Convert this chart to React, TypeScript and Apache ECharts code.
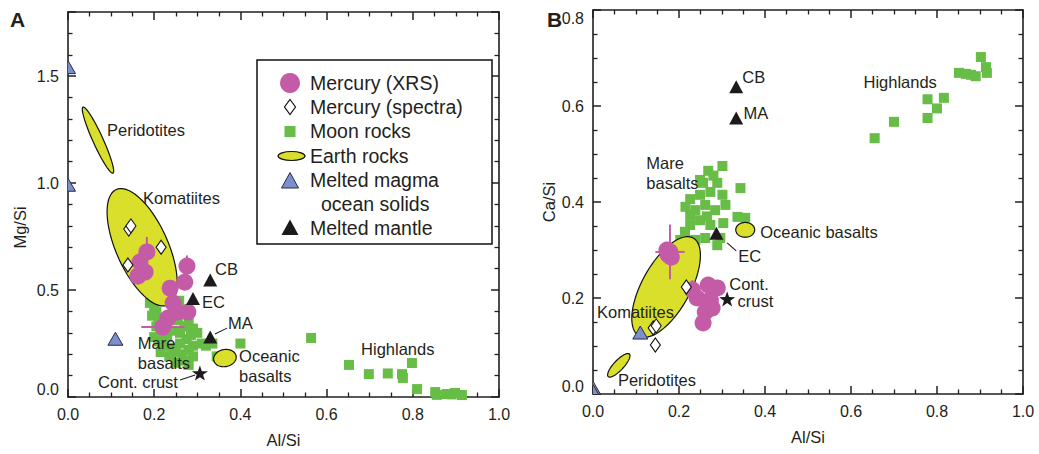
import React, { useEffect, useRef } from "react";
import * as echarts from "echarts";

type P = [number, number];

// ---------------- Panel A: Mg/Si vs Al/Si ----------------
const mercuryXrsA: P[] = [
  [0.183, 0.678], [0.167, 0.631], [0.179, 0.584], [0.162, 0.565],
  [0.276, 0.612], [0.271, 0.537], [0.237, 0.509], [0.244, 0.439],
  [0.253, 0.397], [0.278, 0.397], [0.22, 0.327], [0.232, 0.369],
];
const mercuryErrA: [number, number, number, number][] = [
  [0.183, 0.678, 0, 0.07], [0.276, 0.612, 0, 0.05], [0.22, 0.327, 0.05, 0],
];
const mercurySpectraA: P[] = [[0.141, 0.785], [0.146, 0.8], [0.216, 0.7], [0.139, 0.617]];
const moonRocksA: P[] = [
  // mare basalts
  [0.19, 0.44], [0.2, 0.42], [0.205, 0.4], [0.195, 0.38], [0.21, 0.36], [0.258, 0.45], [0.25, 0.42],
  [0.205, 0.33], [0.215, 0.3], [0.2, 0.28], [0.21, 0.26], [0.22, 0.24], [0.23, 0.28], [0.245, 0.31],
  [0.26, 0.3], [0.27, 0.33], [0.28, 0.35], [0.29, 0.32], [0.285, 0.29], [0.3, 0.3], [0.275, 0.27],
  [0.26, 0.25], [0.24, 0.23], [0.25, 0.21], [0.265, 0.2], [0.28, 0.22], [0.29, 0.24], [0.31, 0.25],
  [0.32, 0.24], [0.335, 0.25], [0.29, 0.19], [0.27, 0.17], [0.25, 0.16], [0.28, 0.15], [0.235, 0.19],
  [0.215, 0.21], [0.345, 0.19], [0.4, 0.25], [0.23, 0.35], [0.255, 0.36],
  // highlands
  [0.564, 0.276], [0.652, 0.15], [0.698, 0.107], [0.742, 0.11], [0.775, 0.107], [0.777, 0.089],
  [0.798, 0.159], [0.81, 0.037], [0.852, 0.023], [0.856, 0.01], [0.879, 0.014], [0.898, 0.019],
  [0.914, 0.009], [0.89, 0.012],
];
const magmaOceanA: P[] = [[0, 1.54], [0, 0.99], [0.11, 0.27]];
const meltedMantleA: P[] = [[0.33, 0.547], [0.29, 0.46], [0.33, 0.28]];
const contCrustA: P[] = [[0.306, 0.112]];
// [centreX, centreY, tipX, tipY, widthRatio]
const earthRocksA: number[][] = [
  [0.0696, 1.201, 0.1044, 1.0467, 0.14],
  [0.172, 0.7, 0.232, 0.43, 0.41],
  [0.364, 0.182, 0.39, 0.192, 0.75],
];
const labelsA = [
  { t: "Peridotites", x: 0.0905, y: 1.248, a: "left" },
  { t: "Komatiites", x: 0.174, y: 0.93, a: "left" },
  { t: "CB", x: 0.341, y: 0.598, a: "left" },
  { t: "EC", x: 0.311, y: 0.444, a: "left" },
  { t: "MA", x: 0.371, y: 0.346, a: "left" },
  { t: "Mare\nbasalts", x: 0.162, y: 0.206, a: "left" },
  { t: "Oceanic\nbasalts", x: 0.397, y: 0.145, a: "left" },
  { t: "Cont. crust", x: 0.255, y: 0.07, a: "right" },
  { t: "Highlands", x: 0.68, y: 0.224, a: "left" },
];
const leadersA: number[][] = [
  [0.341, 0.294, 0.369, 0.322],
  [0.26, 0.079, 0.295, 0.103],
];

// ---------------- Panel B: Ca/Si vs Al/Si ----------------
const mercuryXrsB: P[] = [
  [0.179, 0.296], [0.175, 0.29], [0.182, 0.285], [0.172, 0.3],
  [0.231, 0.217], [0.268, 0.227], [0.289, 0.221], [0.242, 0.2],
  [0.273, 0.196], [0.261, 0.171], [0.277, 0.179], [0.256, 0.148],
];
const mercuryErrB: [number, number, number, number][] = [
  [0.179, 0.296, 0.034, 0.057], [0.231, 0.217, 0, 0.02],
];
const mercurySpectraB: P[] = [[0.14, 0.1375], [0.147, 0.142], [0.217, 0.223], [0.145, 0.102]];
const moonRocksB: P[] = [
  // mare basalts
  [0.268, 0.465], [0.301, 0.475], [0.343, 0.429], [0.256, 0.44], [0.289, 0.44], [0.273, 0.421],
  [0.249, 0.415], [0.301, 0.415], [0.226, 0.406], [0.261, 0.394], [0.238, 0.383], [0.284, 0.383],
  [0.249, 0.362], [0.226, 0.352], [0.273, 0.352], [0.214, 0.338], [0.203, 0.321], [0.238, 0.321],
  [0.261, 0.325], [0.296, 0.325], [0.303, 0.356], [0.336, 0.369], [0.354, 0.367], [0.289, 0.31],
  [0.226, 0.373], [0.308, 0.394], [0.249, 0.446], [0.28, 0.455], [0.215, 0.39], [0.265, 0.37],
  // highlands
  [0.655, 0.533], [0.7, 0.567], [0.778, 0.614], [0.778, 0.575], [0.8, 0.595], [0.816, 0.617],
  [0.851, 0.669], [0.867, 0.667], [0.879, 0.665], [0.89, 0.662], [0.902, 0.702], [0.914, 0.681],
  [0.916, 0.669],
];
const magmaOceanB: P[] = [[0, 0.012], [0, 0.005], [0.11, 0.127]];
const meltedMantleB: P[] = [[0.333, 0.64], [0.287, 0.335], [0.333, 0.575]];
const contCrustB: P[] = [[0.312, 0.198]];
const earthRocksB: number[][] = [
  [0.06, 0.0598, 0.0846, 0.0833, 0.32],
  [0.17, 0.223, 0.233, 0.325, 0.43],
  [0.354, 0.342, 0.376, 0.342, 0.78],
];
const labelsB = [
  { t: "CB", x: 0.347, y: 0.66, a: "left" },
  { t: "MA", x: 0.35, y: 0.585, a: "left" },
  { t: "Highlands", x: 0.629, y: 0.65, a: "left" },
  { t: "Mare\nbasalts", x: 0.124, y: 0.461, a: "left" },
  { t: "Oceanic basalts", x: 0.389, y: 0.3375, a: "left" },
  { t: "EC", x: 0.338, y: 0.2875, a: "left" },
  { t: "Cont.", x: 0.317, y: 0.23, a: "left" },
  { t: "crust", x: 0.336, y: 0.194, a: "left" },
  { t: "Komatiites", x: 0.0093, y: 0.171, a: "left" },
  { t: "Peridotites", x: 0.058, y: 0.029, a: "left" },
];
const leadersB: number[][] = [[0.312, 0.315, 0.333, 0.298]];

// ---------------- styles ----------------
const FONT = '"Liberation Sans", Arial, Helvetica, sans-serif';
const INK = "#231f20";
const MAGENTA = "#c45ba7";
const GREEN = "#67bd45";
const YELLOW = "#d9df2b";
const BLUE = "#7a8fcc";
const STAR = "path://M0,-10 L2.35,-3.24 L9.51,-3.09 L3.8,1.24 L5.88,8.09 L0,4 L-5.88,8.09 L-3.8,1.24 L-9.51,-3.09 L-2.35,-3.24 Z";

const multipleOf = (v: number, step: number) => Math.abs(v / step - Math.round(v / step)) < 1e-6;

function axis(min: number, max: number, interval: number, minorSplit: number, showLabel: boolean, extra: any = {}) {
  return {
    type: "value",
    min,
    max,
    interval,
    axisLine: { show: true, onZero: false, lineStyle: { color: INK, width: 1.6 } },
    axisTick: { show: true, inside: true, length: 8, lineStyle: { color: INK, width: 1.5 } },
    minorTick: { show: true, splitNumber: minorSplit, length: 4.5, lineStyle: { color: INK, width: 1.3 } },
    splitLine: { show: false },
    minorSplitLine: { show: false },
    axisLabel: {
      show: showLabel,
      color: INK,
      fontSize: 16,
      fontFamily: FONT,
      margin: 9,
      formatter: (v: number) => (multipleOf(v, interval) ? v.toFixed(1) : ""),
    },
    nameTextStyle: { color: INK, fontSize: 16.5, fontFamily: FONT },
    ...extra,
  };
}

function ellipseSeries(data: number[][], xi: number, yi: number) {
  return {
    type: "custom",
    xAxisIndex: xi,
    yAxisIndex: yi,
    z: 3,
    silent: true,
    encode: { x: [0, 2], y: [1, 3] },
    data,
    renderItem: (_p: any, api: any) => {
      const c = api.coord([api.value(0), api.value(1)]);
      const t = api.coord([api.value(2), api.value(3)]);
      const dx = t[0] - c[0];
      const dy = t[1] - c[1];
      const a = Math.hypot(dx, dy);
      const b = a * api.value(4);
      const ang = Math.atan2(dy, dx);
      const pts: number[][] = [];
      for (let i = 0; i < 90; i++) {
        const th = (i / 90) * Math.PI * 2;
        const ex = a * Math.cos(th);
        const ey = b * Math.sin(th);
        pts.push([c[0] + ex * Math.cos(ang) - ey * Math.sin(ang), c[1] + ex * Math.sin(ang) + ey * Math.cos(ang)]);
      }
      return { type: "polygon", shape: { points: pts }, style: { fill: YELLOW, stroke: "#111", lineWidth: 1.2 } };
    },
  };
}

function errorSeries(data: number[][], xi: number, yi: number) {
  return {
    type: "custom",
    xAxisIndex: xi,
    yAxisIndex: yi,
    z: 4,
    silent: true,
    encode: { x: 0, y: 1 },
    data,
    renderItem: (_p: any, api: any) => {
      const x = api.value(0), y = api.value(1), ex = api.value(2), ey = api.value(3);
      const children: any[] = [];
      if (ex > 0) {
        const a = api.coord([x - ex, y]), b = api.coord([x + ex, y]);
        children.push({ type: "line", shape: { x1: a[0], y1: a[1], x2: b[0], y2: b[1] }, style: { stroke: MAGENTA, lineWidth: 2 } });
      }
      if (ey > 0) {
        const a = api.coord([x, y - ey]), b = api.coord([x, y + ey]);
        children.push({ type: "line", shape: { x1: a[0], y1: a[1], x2: b[0], y2: b[1] }, style: { stroke: MAGENTA, lineWidth: 2 } });
      }
      return { type: "group", children };
    },
  };
}

function magmaSeries(data: P[], xi: number, yi: number) {
  return {
    type: "custom",
    name: "Melted magma ocean solids",
    xAxisIndex: xi,
    yAxisIndex: yi,
    z: 7,
    clip: true,
    encode: { x: 0, y: 1 },
    data,
    renderItem: (_p: any, api: any) => {
      const c = api.coord([api.value(0), api.value(1)]);
      return {
        type: "polygon",
        shape: { points: [[c[0], c[1] - 7], [c[0] + 7.5, c[1] + 6], [c[0] - 7.5, c[1] + 6]] },
        style: { fill: BLUE, stroke: "#2b2b45", lineWidth: 1 },
      };
    },
  };
}

function labelSeries(labels: { t: string; x: number; y: number; a: string }[], xi: number, yi: number) {
  return {
    type: "custom",
    xAxisIndex: xi,
    yAxisIndex: yi,
    z: 9,
    silent: true,
    encode: { x: 0, y: 1 },
    data: labels.map((l) => [l.x, l.y]),
    renderItem: (p: any, api: any) => {
      const l = labels[p.dataIndex];
      const c = api.coord([api.value(0), api.value(1)]);
      return {
        type: "text",
        x: c[0],
        y: c[1],
        style: {
          text: l.t,
          fill: INK,
          fontSize: 16.5,
          fontFamily: FONT,
          align: l.a,
          verticalAlign: "middle",
          lineHeight: 20,
        },
      };
    },
  };
}

function leaderSeries(data: number[][], xi: number, yi: number) {
  return {
    type: "custom",
    xAxisIndex: xi,
    yAxisIndex: yi,
    z: 8,
    silent: true,
    encode: { x: [0, 2], y: [1, 3] },
    data,
    renderItem: (_p: any, api: any) => {
      const a = api.coord([api.value(0), api.value(1)]);
      const b = api.coord([api.value(2), api.value(3)]);
      return { type: "line", shape: { x1: a[0], y1: a[1], x2: b[0], y2: b[1] }, style: { stroke: INK, lineWidth: 1.1 } };
    },
  };
}

function panelSeries(
  xi: number,
  yi: number,
  d: {
    moon: P[]; earth: number[][]; err: number[][]; xrs: P[]; spectra: P[];
    magma: P[]; mantle: P[]; crust: P[]; leaders: number[][]; labels: any[];
  }
) {
  return [
    { type: "scatter", name: "Moon rocks", xAxisIndex: xi, yAxisIndex: yi, z: 2, symbol: "rect", symbolSize: 10, itemStyle: { color: GREEN, opacity: 1 }, data: d.moon },
    ellipseSeries(d.earth, xi, yi),
    errorSeries(d.err, xi, yi),
    { type: "scatter", name: "Mercury (XRS)", xAxisIndex: xi, yAxisIndex: yi, z: 5, symbol: "circle", symbolSize: 17, itemStyle: { color: MAGENTA, opacity: 1 }, data: d.xrs },
    { type: "scatter", name: "Mercury (spectra)", xAxisIndex: xi, yAxisIndex: yi, z: 6, symbol: "diamond", symbolSize: [10, 14], itemStyle: { color: "#fff", borderColor: "#111", borderWidth: 1.1, opacity: 1 }, data: d.spectra },
    magmaSeries(d.magma, xi, yi),
    { type: "scatter", name: "Melted mantle", xAxisIndex: xi, yAxisIndex: yi, z: 7, symbol: "triangle", symbolSize: [14, 13], itemStyle: { color: "#1c1a1b", opacity: 1 }, data: d.mantle },
    { type: "scatter", name: "Cont. crust", xAxisIndex: xi, yAxisIndex: yi, z: 7, symbol: STAR, symbolSize: [16, 15], itemStyle: { color: "#1c1a1b", opacity: 1 }, data: d.crust },
    leaderSeries(d.leaders, xi, yi),
    labelSeries(d.labels, xi, yi),
  ];
}

// ---------------- legend (panel A) ----------------
const legendItems = ["Mercury (XRS)", "Mercury (spectra)", "Moon rocks", "Earth rocks", "Melted magma", "ocean solids", "Melted mantle"];
const legendText = (t: string, x: number, y: number) => ({
  type: "text",
  x,
  y,
  z: 101,
  style: { text: t, fill: INK, fontSize: 19.5, fontFamily: FONT, align: "left", verticalAlign: "middle" },
});
const legendGraphic: any[] = [
  { type: "rect", z: 100, shape: { x: 257, y: 60, width: 235, height: 184 }, style: { fill: "#fff", stroke: "#111", lineWidth: 1.5 } },
  { type: "circle", z: 101, shape: { cx: 290, cy: 83, r: 10 }, style: { fill: MAGENTA } },
  { type: "polygon", z: 101, shape: { points: [[290, 99.5], [295.5, 107], [290, 114.5], [284.5, 107]] }, style: { fill: "#fff", stroke: "#111", lineWidth: 1.2 } },
  { type: "rect", z: 101, shape: { x: 284.5, y: 126, width: 11, height: 11 }, style: { fill: GREEN } },
  { type: "ellipse", z: 101, shape: { cx: 291.5, cy: 156, rx: 13.5, ry: 4.5 }, style: { fill: YELLOW, stroke: "#111", lineWidth: 1.2 } },
  { type: "polygon", z: 101, shape: { points: [[290, 172.5], [298.5, 188], [281.5, 188]] }, style: { fill: BLUE, stroke: "#2b2b45", lineWidth: 1 } },
  { type: "polygon", z: 101, shape: { points: [[290, 219.5], [298.5, 235], [281.5, 235]] }, style: { fill: "#1c1a1b" } },
  legendText(legendItems[0], 310, 83),
  legendText(legendItems[1], 310, 107),
  legendText(legendItems[2], 310, 131),
  legendText(legendItems[3], 310, 156),
  legendText(legendItems[4], 310, 180),
  legendText(legendItems[5], 321, 204),
  legendText(legendItems[6], 310, 228),
  { type: "text", x: 10, y: 19, z: 101, style: { text: "A", fill: INK, fontSize: 21, fontWeight: "bold", fontFamily: FONT, verticalAlign: "middle" } },
  { type: "text", x: 547, y: 19, z: 101, style: { text: "B", fill: INK, fontSize: 21, fontWeight: "bold", fontFamily: FONT, verticalAlign: "middle" } },
];

const option: any = {
  animation: false,
  backgroundColor: "#fff",
  grid: [
    { left: 68, top: 12, width: 431, height: 385 },
    { left: 593, top: 10, width: 430, height: 384 },
  ],
  xAxis: [
    { gridIndex: 0, position: "bottom", ...axis(0, 1, 0.2, 4, true, { name: "Al/Si", nameLocation: "middle", nameGap: 34 }) },
    { gridIndex: 0, position: "top", ...axis(0, 1, 0.2, 4, false) },
    { gridIndex: 1, position: "bottom", ...axis(0, 1, 0.2, 4, true, { name: "Al/Si", nameLocation: "middle", nameGap: 34 }) },
    { gridIndex: 1, position: "top", ...axis(0, 1, 0.2, 4, false) },
  ],
  yAxis: [
    { gridIndex: 0, position: "left", ...axis(0, 1.8, 0.5, 5, true, { name: "Mg/Si", nameLocation: "middle", nameGap: 40 }) },
    { gridIndex: 0, position: "right", ...axis(0, 1.8, 0.5, 5, false) },
    { gridIndex: 1, position: "left", ...axis(0, 0.8, 0.2, 4, true, { name: "Ca/Si", nameLocation: "middle", nameGap: 32 }) },
    { gridIndex: 1, position: "right", ...axis(0, 0.8, 0.2, 4, false) },
  ],
  graphic: legendGraphic,
  series: [
    ...panelSeries(0, 0, {
      moon: moonRocksA, earth: earthRocksA, err: mercuryErrA, xrs: mercuryXrsA, spectra: mercurySpectraA,
      magma: magmaOceanA, mantle: meltedMantleA, crust: contCrustA, leaders: leadersA, labels: labelsA,
    }),
    ...panelSeries(2, 2, {
      moon: moonRocksB, earth: earthRocksB, err: mercuryErrB, xrs: mercuryXrsB, spectra: mercurySpectraB,
      magma: magmaOceanB, mantle: meltedMantleB, crust: contCrustB, leaders: leadersB, labels: labelsB,
    }),
  ],
};
// vertical nudging of end labels and the Mg/Si title, as in the figure
option.yAxis[0].axisLabel.verticalAlignMinLabel = "bottom";
option.yAxis[2].axisLabel.verticalAlignMinLabel = "bottom";
option.yAxis[2].axisLabel.verticalAlignMaxLabel = "top";
option.yAxis[0].nameTextStyle = { ...option.yAxis[0].nameTextStyle, padding: [0, 46, 0, 0] };

export default function App() {
  const ref = useRef<HTMLDivElement>(null);
  useEffect(() => {
    const chart = echarts.init(ref.current!, null, { renderer: "svg" });
    chart.setOption(option);
    return () => chart.dispose();
  }, []);
  return (
    <div
      ref={ref}
      style={{ position: "fixed", left: 0, top: 0, width: 1039, height: 454, background: "#fff" }}
    />
  );
}
